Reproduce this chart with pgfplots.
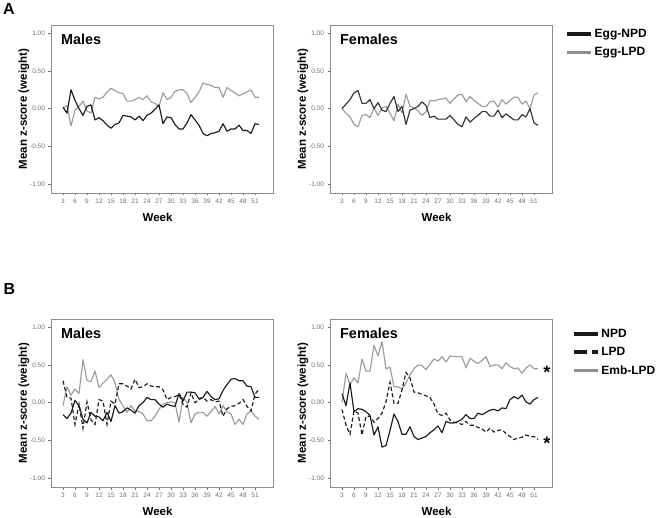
\documentclass[border=0pt]{standalone}
\usepackage{pgfplots}
\pgfplotsset{compat=1.18}
\usepackage{pgfplotstable}
\usepackage{fontspec}
\setmainfont{Liberation Sans}

\definecolor{dk}{HTML}{1A1A1A}
\definecolor{lg}{HTML}{9C9C9C}
\definecolor{fr}{HTML}{8C8C8C}
\definecolor{tk}{HTML}{707070}

\pgfplotstableread{
week npd lpd
3 0.02 0.01
4 -0.06 0.04
5 0.25 -0.23
6 0.11 -0.02
7 0.00 0.03
8 -0.09 0.10
9 0.03 -0.03
10 0.05 -0.06
11 -0.15 0.15
12 -0.12 0.13
13 -0.16 0.15
14 -0.22 0.22
15 -0.26 0.27
16 -0.21 0.24
17 -0.19 0.21
18 -0.09 0.20
19 -0.10 0.10
20 -0.11 0.10
21 -0.15 0.12
22 -0.10 0.15
23 -0.16 0.12
24 -0.09 0.17
25 -0.06 0.09
26 -0.01 0.07
27 0.05 0.03
28 -0.20 0.21
29 -0.11 0.12
30 -0.12 0.15
31 -0.21 0.23
32 -0.27 0.25
33 -0.27 0.25
34 -0.19 0.20
35 -0.08 0.08
36 -0.15 0.15
37 -0.22 0.22
38 -0.33 0.34
39 -0.36 0.32
40 -0.33 0.31
41 -0.32 0.28
42 -0.30 0.28
43 -0.20 0.15
44 -0.30 0.28
45 -0.27 0.24
46 -0.27 0.21
47 -0.22 0.17
48 -0.29 0.20
49 -0.29 0.22
50 -0.33 0.25
51 -0.20 0.15
52 -0.21 0.15
}\AMales

\pgfplotstableread{
week npd lpd
3 0.00 0.00
4 0.06 -0.06
5 0.12 -0.11
6 0.21 -0.21
7 0.24 -0.24
8 0.07 -0.09
9 0.07 -0.08
10 0.12 -0.12
11 0.00 0.01
12 0.08 -0.09
13 -0.02 0.01
14 -0.04 0.03
15 0.07 -0.06
16 0.16 -0.16
17 -0.04 0.06
18 0.03 -0.06
19 -0.21 0.19
20 -0.02 0.03
21 0.00 0.01
22 0.03 -0.03
23 0.09 -0.09
24 0.04 -0.04
25 -0.12 0.11
26 -0.10 0.10
27 -0.14 0.12
28 -0.14 0.13
29 -0.14 0.14
30 -0.09 0.07
31 -0.15 0.13
32 -0.21 0.18
33 -0.24 0.19
34 -0.11 0.09
35 -0.18 0.16
36 -0.13 0.11
37 -0.09 0.07
38 -0.04 0.03
39 -0.04 0.03
40 -0.10 0.09
41 -0.10 0.10
42 -0.02 0.02
43 -0.12 0.12
44 -0.07 0.06
45 -0.11 0.11
46 -0.15 0.15
47 -0.15 0.15
48 -0.08 0.06
49 -0.11 0.10
50 0.00 0.00
51 -0.19 0.18
52 -0.22 0.21
}\AFemales

\pgfplotstableread{
week npd lpd emb
3 -0.16 0.29 -0.04
4 -0.21 0.07 0.21
5 -0.14 0.06 0.10
6 0.03 -0.29 0.18
7 -0.04 -0.02 0.12
8 -0.22 -0.34 0.57
9 -0.27 0.01 0.29
10 -0.13 -0.23 0.28
11 -0.18 -0.29 0.42
12 -0.19 0.04 0.20
13 -0.24 0.02 0.26
14 -0.13 -0.29 0.31
15 -0.25 0.02 0.37
16 -0.04 -0.02 0.26
17 -0.14 0.25 0.04
18 -0.12 0.25 -0.04
19 -0.07 0.22 -0.13
20 -0.10 0.18 -0.04
21 -0.14 0.31 -0.11
22 -0.04 0.20 -0.12
23 0.00 0.21 -0.15
24 0.07 0.25 -0.24
25 0.04 0.22 -0.24
26 0.04 0.21 -0.18
27 -0.02 0.21 -0.09
28 -0.06 0.17 -0.02
29 -0.02 0.04 0.00
30 -0.04 0.07 0.01
31 -0.05 0.08 0.00
32 0.12 0.11 -0.26
33 0.02 -0.02 0.07
34 0.14 -0.06 0.00
35 0.14 0.13 -0.27
36 0.13 0.00 -0.15
37 0.05 0.04 -0.13
38 0.07 0.07 -0.13
39 0.15 0.02 -0.18
40 0.08 0.04 -0.12
41 0.04 0.01 -0.05
42 0.05 0.02 -0.15
43 0.16 -0.18 -0.04
44 0.24 -0.08 -0.12
45 0.31 -0.05 -0.15
46 0.32 -0.04 -0.29
47 0.29 -0.01 -0.22
48 0.29 0.04 -0.29
49 0.22 -0.05 -0.15
50 0.21 -0.11 -0.11
51 0.07 0.11 -0.18
52 0.07 0.18 -0.22
}\BMales

\pgfplotstableread{
week npd lpd emb
3 0.12 -0.09 0.00
4 -0.04 -0.30 0.39
5 0.26 -0.42 0.24
6 -0.12 -0.11 0.33
7 -0.08 -0.14 0.26
8 -0.09 -0.43 0.58
9 -0.12 -0.18 0.42
10 -0.17 -0.18 0.42
11 -0.43 -0.26 0.76
12 -0.32 -0.21 0.62
13 -0.59 -0.14 0.81
14 -0.57 0.01 0.45
15 -0.37 0.27 0.47
16 -0.15 -0.01 0.21
17 -0.25 -0.01 0.21
18 -0.42 0.17 0.18
19 -0.42 0.40 0.26
20 -0.32 0.33 0.37
21 -0.45 0.14 0.45
22 -0.49 0.13 0.50
23 -0.47 0.11 0.49
24 -0.45 0.09 0.44
25 -0.40 0.07 0.51
26 -0.36 -0.02 0.58
27 -0.31 -0.15 0.55
28 -0.40 -0.17 0.61
29 -0.25 -0.14 0.54
30 -0.27 -0.23 0.62
31 -0.27 -0.26 0.61
32 -0.25 -0.27 0.61
33 -0.22 -0.29 0.61
34 -0.16 -0.25 0.46
35 -0.21 -0.30 0.59
36 -0.21 -0.30 0.55
37 -0.14 -0.33 0.52
38 -0.16 -0.35 0.56
39 -0.13 -0.39 0.61
40 -0.10 -0.34 0.48
41 -0.09 -0.39 0.50
42 -0.11 -0.37 0.50
43 -0.07 -0.36 0.45
44 -0.08 -0.41 0.53
45 0.04 -0.45 0.48
46 0.08 -0.49 0.45
47 0.05 -0.47 0.46
48 0.10 -0.46 0.39
49 0.01 -0.43 0.46
50 -0.02 -0.45 0.50
51 0.04 -0.45 0.45
52 0.07 -0.49 0.45
}\BFemales

\pgfplotsset{
  panel/.style={
    width=222pt, height=168pt, scale only axis,
    anchor=south west,
    xmin=0, xmax=55.5,
    ymin=-1.12, ymax=1.11,
    xtick={3,6,...,51},
    xticklabels={3,6,9,12,15,18,21,24,27,30,33,36,39,42,45,48,51},
    ytick={-1,-0.5,0,0.5,1},
    yticklabels={-1.00,-0.50,0.00,0.50,1.00},
    tick align=outside,
    tick pos=left,
    major tick length=2.5pt,
    tick style={tk, line width=0.4pt},
    axis line style={fr, line width=0.9pt},
    ticklabel style={font=\fontsize{6.5}{7}\selectfont, text=tk},
    xlabel={Week},
    ylabel={Mean z-score (weight)},
    label style={font=\bfseries\fontsize{11.5}{13}\selectfont},
    xlabel style={at={(axis description cs:0.48,-0.143)}, anchor=center, inner sep=0pt},
    ylabel style={at={(axis description cs:-0.122,0.5)}, anchor=center},
    legend style={draw=none, fill=none, anchor=north west,
      font=\bfseries\fontsize{12}{14}\selectfont, row sep=4.5pt},
    legend cell align=left,
    legend image code/.code={\draw[##1] (0pt,0pt) -- (24pt,0pt);},
  },
  blk/.style={dk, line width=1.15pt, line join=round},
  gry/.style={lg, line width=1.15pt, line join=round},
  dsh/.style={dk, line width=1.15pt, dash pattern=on 4pt off 2.5pt},
}

\newcommand{\paneltitle}[1]{\node[anchor=base west, font=\bfseries\fontsize{14.4}{16}\selectfont] at (rel axis cs:0.03,0.885) {#1};}

\begin{document}
\begin{tikzpicture}
\useasboundingbox (0pt,0pt) rectangle (661pt,517pt);

\node[anchor=base west, font=\bfseries\fontsize{16}{18}\selectfont, inner sep=0pt] at (3pt,502pt) {A};
\node[anchor=base west, font=\bfseries\fontsize{16}{18}\selectfont, inner sep=0pt] at (3.5pt,222pt) {B};

% A males
\begin{axis}[panel, at={(51pt,324pt)}]
  \addplot[gry] table[x=week,y=lpd] {\AMales};
  \addplot[blk] table[x=week,y=npd] {\AMales};
  \paneltitle{Males}
\end{axis}

% A females
\begin{axis}[panel, at={(330pt,324pt)},
  legend style={at={(axis description cs:1.045,1.0)}}]
  \addplot[gry, forget plot] table[x=week,y=lpd] {\AFemales};
  \addplot[blk, draw=black!80, forget plot] table[x=week,y=npd] {\AFemales};
  \addlegendimage{dk, line width=3.5pt}
  \addlegendentry{Egg-NPD}
  \addlegendimage{lg!90!black, line width=3.5pt}
  \addlegendentry{Egg-LPD}
  \paneltitle{Females}
\end{axis}

% B males
\begin{axis}[panel, at={(51pt,30pt)}]
  \addplot[gry] table[x=week,y=emb] {\BMales};
  \addplot[dsh] table[x=week,y=lpd] {\BMales};
  \addplot[blk] table[x=week,y=npd] {\BMales};
  \paneltitle{Males}
\end{axis}

% B females
\begin{axis}[panel, at={(330pt,30pt)},
  legend style={at={(axis description cs:1.075,0.966)}}]
  \addplot[gry, forget plot] table[x=week,y=emb] {\BFemales};
  \addplot[dsh, forget plot] table[x=week,y=lpd] {\BFemales};
  \addplot[blk, forget plot] table[x=week,y=npd] {\BFemales};
  \addlegendimage{dk, line width=3.5pt}
  \addlegendentry{NPD}
  \addlegendimage{dk, line width=3.5pt, dash pattern=on 13pt off 5pt on 6pt off 20pt}
  \addlegendentry{LPD}
  \addlegendimage{lg!90!black, line width=3.5pt}
  \addlegendentry{Emb-LPD}
  \paneltitle{Females}
  \node[font=\bfseries\fontsize{18}{18}\selectfont, yshift=-3.5pt] at (axis cs:54.2,0.45) {*};
  \node[font=\bfseries\fontsize{18}{18}\selectfont, yshift=-3.5pt] at (axis cs:54.2,-0.49) {*};
\end{axis}
\end{tikzpicture}
\end{document}
